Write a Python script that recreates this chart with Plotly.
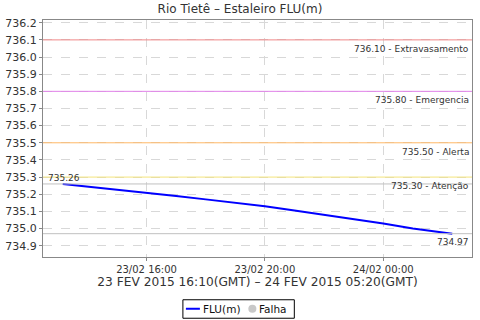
import plotly.graph_objects as go

# Data (local time on axis)
times = ["2015-02-23 13:10", "2015-02-23 14:00", "2015-02-23 15:00", "2015-02-23 16:00",
         "2015-02-23 17:00", "2015-02-23 18:00", "2015-02-23 19:00", "2015-02-23 20:00",
         "2015-02-23 21:00", "2015-02-23 22:00", "2015-02-23 23:00", "2015-02-24 00:00",
         "2015-02-24 01:00", "2015-02-24 02:00", "2015-02-24 02:20"]
levels = [735.26, 735.245, 735.23, 735.21, 735.19, 735.17, 735.15, 735.13,
          735.105, 735.08, 735.055, 735.03, 735.00, 734.98, 734.97]

thr_values = [736.10, 735.80, 735.50, 735.30]
thr_names = ["Extravasamento", "Emergencia", "Alerta", "Atenção"]
thr_colors = ["#f08888", "#e080e8", "#ffb866", "#f4e47a"]

x_range = ["2015-02-23 12:30", "2015-02-24 03:00"]
y_range = [734.834, 736.216]
tick_vals = ["2015-02-23 16:00", "2015-02-23 20:00", "2015-02-24 00:00"]
tick_text = ["23/02 16:00", "23/02 20:00", "24/02 00:00"]

FONT = "DejaVu Sans"
TXT = "#333333"
fig = go.Figure()

fig.add_trace(go.Scatter(x=times, y=levels, mode="lines", name="FLU(m)",
                         line=dict(color="#0000ff", width=2)))

shapes = []
annots = []
for v, n, c in zip(thr_values, thr_names, thr_colors):
    shapes.append(dict(type="line", xref="paper", x0=0, x1=1, yref="y", y0=v, y1=v,
                       line=dict(color=c, width=1), layer="above"))
    annots.append(dict(xref="paper", x=0.997, yref="y", y=v, text=f"{v:.2f} - {n}",
                       xanchor="right", yanchor="top", yshift=-2, showarrow=False,
                       font=dict(family=FONT, size=9, color=TXT)))

vmax, vmin = max(levels), min(levels)
for v in (vmax, vmin):
    shapes.append(dict(type="line", xref="paper", x0=0, x1=1, yref="y", y0=v, y1=v,
                       line=dict(color="#c0c0c0", width=1), layer="above"))
annots.append(dict(xref="paper", x=0.006, yref="y", y=vmax, text=f"{vmax:.2f}", xanchor="left",
                   yanchor="bottom", showarrow=False, yshift=-1,
                   font=dict(family=FONT, size=9, color=TXT)))
annots.append(dict(xref="paper", x=0.997, yref="y", y=vmin, text=f"{vmin:.2f}",
                   xanchor="right", yanchor="top", showarrow=False, yshift=-1,
                   font=dict(family=FONT, size=9, color=TXT)))

# Manual legend (paper coords: x=(px-43)/429.3, y=(256.7-py)/237.2)
def px_x(p):
    return (p - 43) / 429.3

def px_y(p):
    return (256.7 - p) / 237.2

shapes.append(dict(type="rect", xref="paper", yref="paper",
                   x0=px_x(183), x1=px_x(294.5), y0=px_y(318), y1=px_y(299.5),
                   line=dict(color="#000000", width=1), fillcolor="white"))
shapes.append(dict(type="line", xref="paper", yref="paper",
                   x0=px_x(186), x1=px_x(200), y0=px_y(308.5), y1=px_y(308.5),
                   line=dict(color="#0000ff", width=2)))
shapes.append(dict(type="circle", xref="paper", yref="paper",
                   x0=px_x(248.5), x1=px_x(256.5), y0=px_y(312.5), y1=px_y(304.5),
                   line=dict(color="#c8c8c8", width=0), fillcolor="#c8c8c8"))
annots.append(dict(xref="paper", yref="paper", x=px_x(201), y=px_y(308.5), text="FLU(m)",
                   xanchor="left", yanchor="middle", showarrow=False,
                   font=dict(family=FONT, size=10.5, color="#111111")))
annots.append(dict(xref="paper", yref="paper", x=px_x(257.5), y=px_y(308.5), text="Falha",
                   xanchor="left", yanchor="middle", showarrow=False,
                   font=dict(family=FONT, size=10.5, color="#111111")))

fig.update_layout(
    width=480, height=320,
    margin=dict(l=43, r=8, t=20, b=63),
    paper_bgcolor="white", plot_bgcolor="white",
    title=dict(text="Rio Tietê – Estaleiro FLU(m)", x=0.5, xanchor="center",
               y=0.972, yanchor="middle",
               font=dict(family=FONT, size=12, color=TXT)),
    font=dict(family=FONT, size=11, color=TXT),
    shapes=shapes, annotations=annots,
    showlegend=False,
    xaxis=dict(range=x_range, tickvals=tick_vals, ticktext=tick_text, automargin=False,
               showgrid=True, gridcolor="#d8d8d8", griddash="dash", gridwidth=1,
               showline=True, linecolor="#888888", mirror=True, ticks="outside",
               ticklen=3, tickcolor="#888888", zeroline=False,
               tickfont=dict(family=FONT, size=10, color=TXT),
               title=dict(text="23 FEV 2015 16:10(GMT) – 24 FEV 2015 05:20(GMT)",
                          font=dict(family=FONT, size=12.2, color=TXT), standoff=2)),
    yaxis=dict(range=y_range, dtick=0.1, tick0=734.9, tickformat=".1f", automargin=False,
               showgrid=True, gridcolor="#d8d8d8", griddash="dash", gridwidth=1,
               showline=True, linecolor="#888888", mirror=True, ticks="outside",
               ticklen=3, tickcolor="#888888", zeroline=False,
               tickfont=dict(family=FONT, size=11, color=TXT)),
)

fig.write_html("out.html")
